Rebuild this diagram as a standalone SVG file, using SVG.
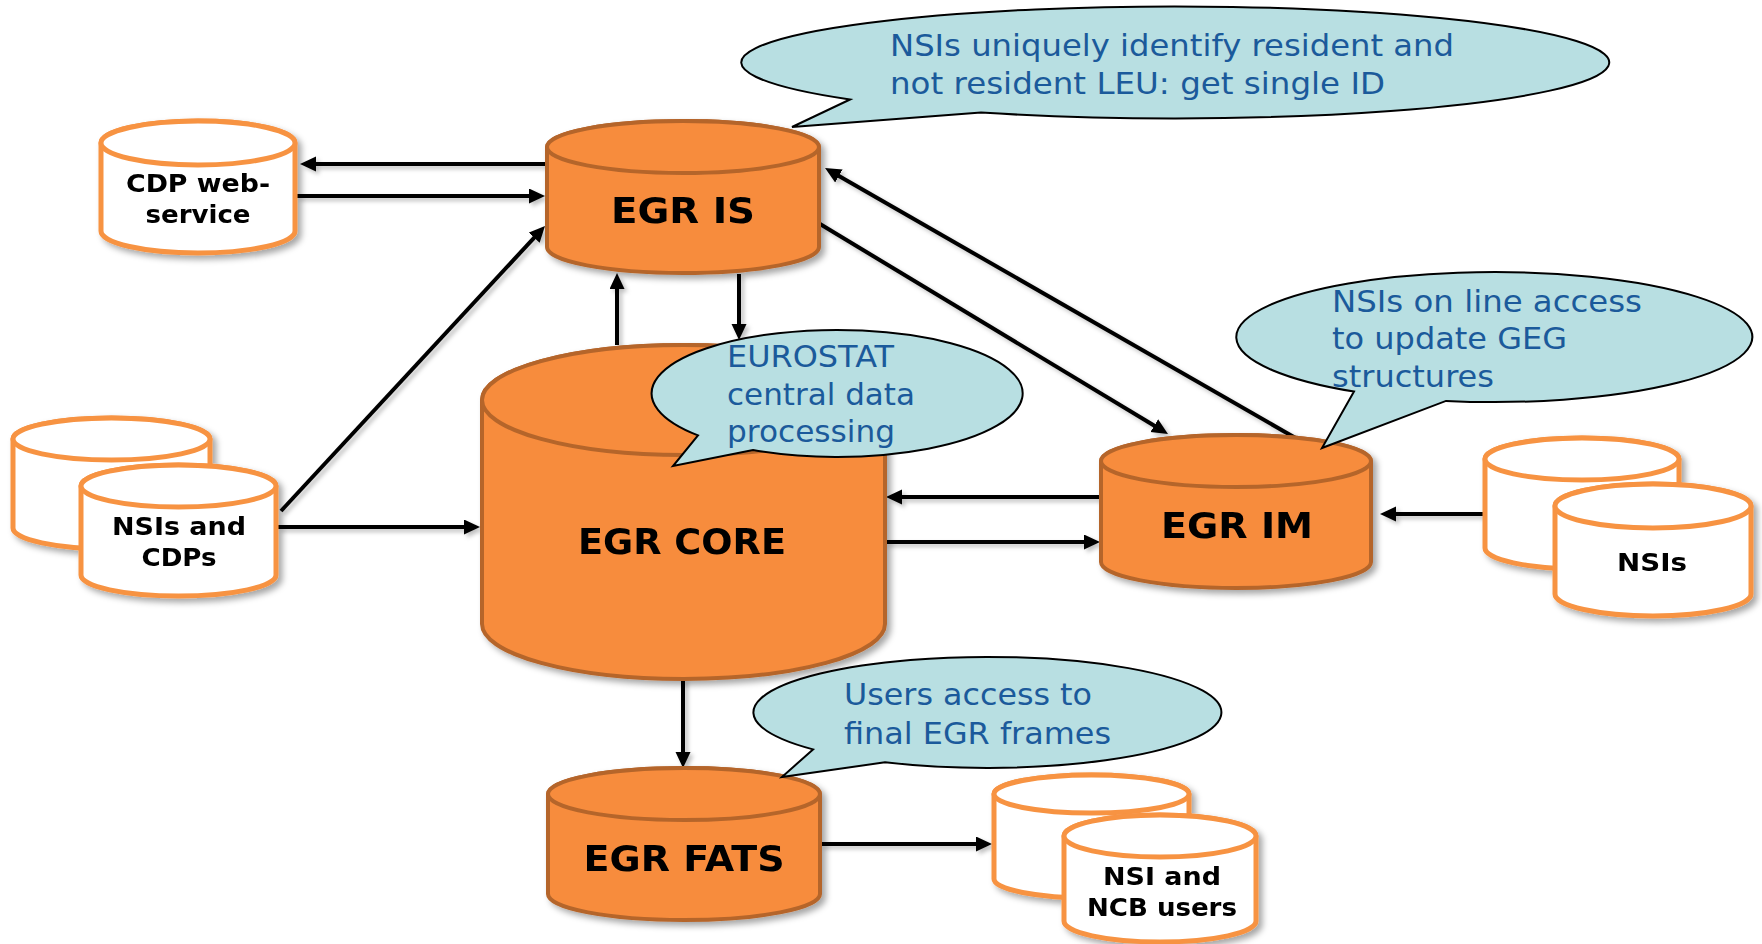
<svg xmlns="http://www.w3.org/2000/svg" width="1762" height="944" viewBox="0 0 1762 944">
<style>
.oc{fill:#F78C3D;stroke:#B5652B;stroke-width:4}
.wc{fill:#FFFFFF;stroke:#F79343;stroke-width:5}
.bub{fill:#B8DFE2;stroke:#000;stroke-width:2}
.bt{font-family:"DejaVu Sans","Verdana",sans-serif;font-size:30px;fill:#1B5A9B}
.ol{font-family:"DejaVu Sans","Verdana",sans-serif;font-weight:bold;font-size:36px;fill:#000;text-anchor:middle}
.wl{font-family:"DejaVu Sans","Verdana",sans-serif;font-weight:bold;font-size:24px;fill:#000;text-anchor:middle}
.ar{fill:none;stroke:#000;stroke-width:4;marker-end:url(#ah)}
</style>
<defs>
<filter id="sh" x="-10%" y="-10%" width="130%" height="130%">
<feDropShadow dx="4" dy="4" stdDeviation="3" flood-color="#000" flood-opacity="0.35"/>
</filter>
<filter id="ash" x="-10%" y="-10%" width="130%" height="130%">
<feDropShadow dx="3" dy="3" stdDeviation="2" flood-color="#000" flood-opacity="0.25"/>
</filter>
<marker id="ah" markerUnits="userSpaceOnUse" markerWidth="17" markerHeight="16" refX="6" refY="7.5" orient="auto">
<path d="M0,0 L16,7.5 L0,15 Z" fill="#000"/>
</marker>
</defs>
<rect width="1762" height="944" fill="#FFFFFF"/>

<g id="connectors" filter="url(#ash)">
<path class="ar" d="M546,164 L310,164"/>
<path class="ar" d="M297,196 L535,196"/>
<path class="ar" d="M281,511 L538.2,233.3"/>
<path class="ar" d="M617,345 L617,283"/>
<path class="ar" d="M739,274 L739,330"/>
<path class="ar" d="M820,224 L1159.4,428.8"/>
<path class="ar" d="M1299,440 L833.7,173"/>
<path class="ar" d="M1100,497 L896,497"/>
<path class="ar" d="M886,542 L1090,542"/>
<path class="ar" d="M1483,514 L1390,514"/>
<path class="ar" d="M278,527 L470,527"/>
<path class="ar" d="M683,679 L683,758"/>
<path class="ar" d="M821,844 L982,844"/>
</g>

<g id="cdp-web-service" filter="url(#sh)">
<path class="wc" d="M101,143 L101,231 A97 22 0 0 0 295,231 L295,143 A97 22 0 0 0 101,143 Z"/>
<ellipse class="wc" cx="198" cy="143" rx="97" ry="22"/>
<text class="wl" x="198" y="192" textLength="144" lengthAdjust="spacingAndGlyphs">CDP web-</text>
<text class="wl" x="198" y="223" textLength="105" lengthAdjust="spacingAndGlyphs">service</text>
</g>

<g id="egr-is" filter="url(#sh)">
<path class="oc" d="M547,147 L547,247 A136 26 0 0 0 819,247 L819,147 A136 26 0 0 0 547,147 Z"/>
<ellipse class="oc" cx="683" cy="147" rx="136" ry="26"/>
<text class="ol" x="683" y="223" textLength="144" lengthAdjust="spacingAndGlyphs">EGR IS</text>
</g>

<g id="egr-core" filter="url(#sh)">
<path class="oc" d="M482,400 L482,624 A201.5 55 0 0 0 885,624 L885,400 A201.5 55 0 0 0 482,400 Z"/>
<ellipse class="oc" cx="683.5" cy="400" rx="201.5" ry="55"/>
<text class="ol" x="682" y="554" font-size="37" textLength="208" lengthAdjust="spacingAndGlyphs">EGR CORE</text>
</g>

<g id="egr-im" filter="url(#sh)">
<path class="oc" d="M1101,461 L1101,562 A135 26 0 0 0 1371,562 L1371,461 A135 26 0 0 0 1101,461 Z"/>
<ellipse class="oc" cx="1236" cy="461" rx="135" ry="26"/>
<text class="ol" x="1237" y="538" textLength="152" lengthAdjust="spacingAndGlyphs">EGR IM</text>
</g>

<g id="egr-fats" filter="url(#sh)">
<path class="oc" d="M548,794 L548,894 A136 26 0 0 0 820,894 L820,794 A136 26 0 0 0 548,794 Z"/>
<ellipse class="oc" cx="684" cy="794" rx="136" ry="26"/>
<text class="ol" x="684" y="871" textLength="201" lengthAdjust="spacingAndGlyphs">EGR FATS</text>
</g>

<g id="nsis-and-cdps" filter="url(#sh)">
<path class="wc" d="M13,439 L13,528 A98.5 21 0 0 0 210,528 L210,439 A98.5 21 0 0 0 13,439 Z"/>
<ellipse class="wc" cx="111.5" cy="439" rx="98.5" ry="21"/>
<path class="wc" d="M81,486 L81,575 A97.5 21 0 0 0 276,575 L276,486 A97.5 21 0 0 0 81,486 Z"/>
<ellipse class="wc" cx="178.5" cy="486" rx="97.5" ry="21"/>
<text class="wl" x="179" y="535" textLength="134" lengthAdjust="spacingAndGlyphs">NSIs and</text>
<text class="wl" x="179" y="566" textLength="75" lengthAdjust="spacingAndGlyphs">CDPs</text>
</g>

<g id="nsis" filter="url(#sh)">
<path class="wc" d="M1485,459 L1485,548 A97 21 0 0 0 1679,548 L1679,459 A97 21 0 0 0 1485,459 Z"/>
<ellipse class="wc" cx="1582" cy="459" rx="97" ry="21"/>
<path class="wc" d="M1555,506 L1555,594 A98 22 0 0 0 1751,594 L1751,506 A98 22 0 0 0 1555,506 Z"/>
<ellipse class="wc" cx="1653" cy="506" rx="98" ry="22"/>
<text class="wl" x="1652" y="571" textLength="70" lengthAdjust="spacingAndGlyphs">NSIs</text>
</g>

<g id="nsi-ncb-users" filter="url(#sh)">
<path class="wc" d="M994,794 L994,879 A97.5 19 0 0 0 1189,879 L1189,794 A97.5 19 0 0 0 994,794 Z"/>
<ellipse class="wc" cx="1091.5" cy="794" rx="97.5" ry="19"/>
<path class="wc" d="M1064,836 L1064,921 A96 21 0 0 0 1256,921 L1256,836 A96 21 0 0 0 1064,836 Z"/>
<ellipse class="wc" cx="1160" cy="836" rx="96" ry="21"/>
<text class="wl" x="1162" y="885" textLength="118" lengthAdjust="spacingAndGlyphs">NSI and</text>
<text class="wl" x="1162" y="916" textLength="150" lengthAdjust="spacingAndGlyphs">NCB users</text>
</g>

<g id="bubble-nsis-identify">
<path class="bub" d="M850,99.5 L792,127 L981,112.5 A434 56 0 1 0 850,99.5 Z"/>
<text class="bt" x="890" y="56" textLength="564" lengthAdjust="spacingAndGlyphs">NSIs uniquely identify resident and</text>
<text class="bt" x="890" y="94" textLength="495" lengthAdjust="spacingAndGlyphs">not resident LEU: get single ID</text>
</g>

<g id="bubble-eurostat">
<path class="bub" d="M698,435.4 L673,466 L753,450 A185.5 63.5 0 1 0 698,435.4 Z"/>
<text class="bt" x="727" y="367" textLength="167" lengthAdjust="spacingAndGlyphs">EUROSTAT</text>
<text class="bt" x="727" y="405" textLength="188" lengthAdjust="spacingAndGlyphs">central data</text>
<text class="bt" x="727" y="442" textLength="168" lengthAdjust="spacingAndGlyphs">processing</text>
</g>

<g id="bubble-nsis-online">
<path class="bub" d="M1354,391.6 L1322,448 L1446,400.9 A258 65 0 1 0 1354,391.6 Z"/>
<text class="bt" x="1332" y="312" textLength="310" lengthAdjust="spacingAndGlyphs">NSIs on line access</text>
<text class="bt" x="1332" y="349" textLength="235" lengthAdjust="spacingAndGlyphs">to update GEG</text>
<text class="bt" x="1332" y="387" textLength="162" lengthAdjust="spacingAndGlyphs">structures</text>
</g>

<g id="bubble-users">
<path class="bub" d="M813,749.4 L782,777 L885,762.3 A234 55.5 0 1 0 813,749.4 Z"/>
<text class="bt" x="844" y="705" textLength="248" lengthAdjust="spacingAndGlyphs">Users access to</text>
<text class="bt" x="844" y="744" textLength="267" lengthAdjust="spacingAndGlyphs">final EGR frames</text>
</g>
</svg>
